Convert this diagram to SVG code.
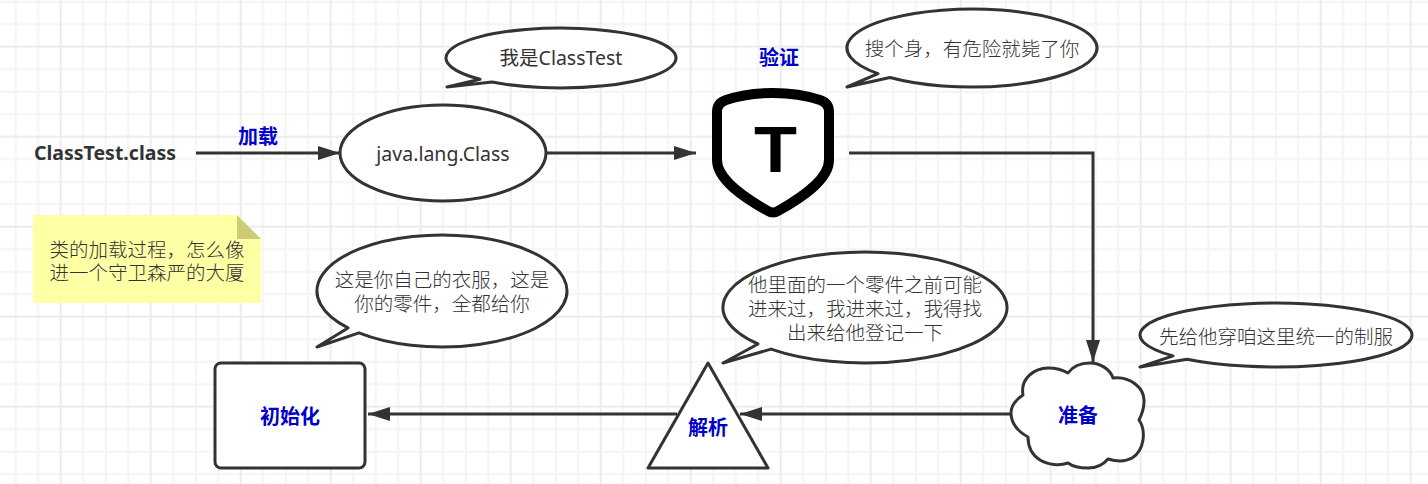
<svg xmlns="http://www.w3.org/2000/svg" width="1428" height="484" viewBox="0 0 1428 484">
<style>
text{font-family:"Noto Sans","Noto Sans CJK SC",sans-serif;font-size:19.5px;font-weight:300;fill:#333;text-anchor:middle}
.r{font-weight:400}
.h{font-weight:700}
.b{font-weight:700;fill:#0000cc;font-size:20px}
.s{fill:#fff;stroke:#333;stroke-width:3;stroke-linejoin:round}
.c{fill:none;stroke:#333;stroke-width:3}
.m{stroke:#f4f4f4;stroke-width:2;fill:none}
.j{stroke:#ececec;stroke-width:2;fill:none}
</style>
<defs>
<pattern id="grid" patternUnits="userSpaceOnUse" x="50.7" y="36.7" width="90" height="90">
<path class="m" d="M32.5,0V90M55,0V90M77.5,0V90M0,32.5H90M0,55H90M0,77.5H90"/>
<path class="j" d="M10,0V90M0,10H90"/>
</pattern>
<marker id="a" markerUnits="userSpaceOnUse" markerWidth="24" markerHeight="16" refX="22" refY="7" orient="auto">
<path d="M0,0L22,7L0,14Z" fill="#333"/>
</marker>
</defs>
<rect width="1428" height="484" fill="#fff"/>
<rect width="1428" height="484" fill="url(#grid)"/>
<g id="connectors">
<path class="c" marker-end="url(#a)" d="M196,153H340"/>
<path class="c" marker-end="url(#a)" d="M546,153H696"/>
<path class="c" marker-end="url(#a)" d="M849,153H1093V362"/>
<path class="c" marker-end="url(#a)" d="M1010,414H740"/>
<path class="c" marker-end="url(#a)" d="M677,414H368"/>
</g>
<g id="n-class"><text class="h" x="105" y="160">ClassTest.class</text></g>
<g id="l-load"><text class="b" x="258" y="144">加载</text></g>
<g id="n-java"><ellipse class="s" cx="443" cy="153" rx="103" ry="48"/><text class="r" x="443" y="161">java.lang.Class</text></g>
<g id="c-me"><path class="s" d="M447,87L492,82A115,30 0 1 0 480,79.296Z"/><text class="r" x="561" y="65">我是ClassTest</text></g>
<g id="l-verify"><text class="b" x="779" y="65">验证</text></g>
<g id="n-shield">
<path fill="#fff" stroke="#000" stroke-width="10" stroke-linejoin="round" d="M773,93C750,93 735,97 726,100C720,102 717,106 717,112L717,160C717,180 745,198 768,211Q773,214 778,211C801,198 829,180 829,160L829,112C829,106 826,102 820,100C811,97 796,93 773,93Z"/>
<text x="775.5" y="172" textLength="43" lengthAdjust="spacingAndGlyphs" style="font-family:'Liberation Sans',sans-serif;font-size:65px;font-weight:700;fill:#000">T</text>
</g>
<g id="c-search"><path class="s" d="M847,87L890,77.436A125,39 0 1 0 878,73.707Z"/><text x="972" y="56">搜个身，有危险就毙了你</text></g>
<g id="c-prepare"><path class="s" d="M1140,367L1187,359.196A136,32 0 1 0 1173,355.896Z"/><text x="1276" y="344">先给他穿咱这里统一的制服</text></g>
<g id="n-prepare">
<path class="s" d="M1011,413C1011,405 1017,399 1023,395C1020,378 1035,368 1048,368C1055,368 1063,370 1068,373C1073,366 1081,363 1090,363C1100,363 1110,369 1113,378C1130,376 1145,388 1144,402C1144,410 1141,416 1139,420C1146,430 1145,450 1132,458C1125,462 1115,461 1108,459C1103,465 1096,468 1088,468C1080,468 1072,466 1068,463C1060,466 1048,465 1040,460C1032,455 1028,447 1028,437C1018,432 1011,423 1011,413Z"/>
<text class="b" x="1078" y="423">准备</text>
</g>
<g id="c-resolve"><path class="s" d="M723,363L771,349.099A142,55.5 0 1 0 758,343.987Z"/>
<text x="865" y="292">他里面的一个零件之前可能</text><text x="865" y="316">进来过，我进来过，我得找</text><text x="865" y="340">出来给他登记一下</text></g>
<g id="n-resolve"><path class="s" d="M708,363L768,468H648Z"/><text class="b" x="708" y="435">解析</text></g>
<g id="c-init"><path class="s" d="M317,347L359,332.873A125,56 0 1 0 348,327.913Z"/>
<text x="442" y="287">这是你自己的衣服，这是</text><text x="442" y="311">你的零件，全都给你</text></g>
<g id="n-init"><rect class="s" x="215" y="363" width="150" height="105" rx="6"/><text class="b" x="290" y="424">初始化</text></g>
<g id="note">
<path fill="#ffffa6" d="M33,215H237L261,239V303H33Z"/>
<path fill="#cccc77" d="M237,215L261,239H237Z"/>
<text x="147" y="257">类的加载过程，怎么像</text><text x="147" y="280">进一个守卫森严的大厦</text>
</g>
</svg>
